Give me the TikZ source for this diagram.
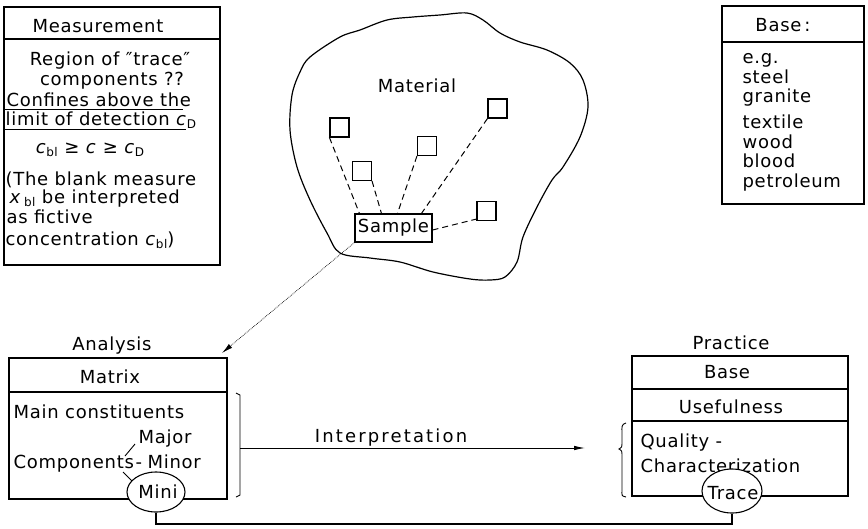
\documentclass[tikz,border=0pt]{standalone}
\usepackage{fontspec}
\setmainfont{DejaVu Sans}[LetterSpace=4]
\usetikzlibrary{arrows.meta,shapes.geometric,calc}
\newcommand{\lowsub}[1]{\raisebox{-3pt}{\fontsize{12}{12}\selectfont #1}}
\begin{document}
\begin{tikzpicture}[x=1pt,y=-1pt, line width=1.2pt,
  every node/.style={font=\fontsize{18}{20}\selectfont, inner sep=0pt},
  frame/.style={draw, rectangle, inner sep=0pt},
  txt/.style={anchor=base},
  txtl/.style={anchor=base west},
  sq/.style={draw, rectangle, minimum width=19pt, minimum height=19pt, line width=1.1pt},
  ell/.style={draw, ellipse, fill=white, inner sep=0pt, line width=1.1pt},
  dashln/.style={dash pattern=on 6pt off 4pt, line width=1pt},
  thinln/.style={line width=0.9pt}
]
\useasboundingbox (0,0) rectangle (868,528);

% ---------------- Measurement box
\node[frame, minimum width=216pt, minimum height=258pt] (meas) at (112,136) {};
\draw (4,39) -- (220,39);
\node[txt]  (mtitle) at (98,32) {Measurement};
\node[txt]  (m1) at (110,65) {Region of ″trace″};
\node[txt]  (m2) at (112,85) {components ??};
\node[txtl] (m3) at (6,106) {Confines above the};
\draw[thinln] (4,109) -- (183,109);
\node[txtl] (m4) at (5,125) {limit of detection \textit{c}\lowsub{D}};
\draw[thinln] (4,129) -- (186,129);
\node[txt]  (m5) at (90,153) {\textit{c}\lowsub{bl} ≥ \textit{c} ≥ \textit{c}\lowsub{D}};
\node[txtl] (m6) at (5,185) {(The blank measure};
\node[txtl] (m7) at (9,203) {\textit{x}\,\lowsub{bl} be interpreted};
\node[txtl] (m8) at (6,223) {as fictive};
\node[txtl] (m9) at (5,245) {concentration \textit{c}\lowsub{bl})};

% ---------------- Base box (top right)
\node[frame, minimum width=142pt, minimum height=198pt] (basebox) at (793,105) {};
\draw (722,42) -- (864,42);
\node[txt]  (btitle) at (783,31) {Base\,:};
\node[txtl] (b1) at (742,63) {e.g.};
\node[txtl] (b2) at (742,83) {steel};
\node[txtl] (b3) at (742,102) {granite};
\node[txtl] (b4) at (742,128) {textile};
\node[txtl] (b5) at (742,148) {wood};
\node[txtl] (b6) at (742,167) {blood};
\node[txtl] (b7) at (742,187) {petroleum};

% ---------------- Material blob
\draw[line width=1.2pt] plot[smooth cycle, tension=0.55] coordinates {
 (310,57) (340,37) (360,30) (387,20) (413,17) (440,15) (467,13) (483,20)
 (500,33) (520,42) (547,50) (570,63) (583,80) (588,107) (580,137) (563,167)
 (552,180) (537,207) (523,237) (517,262) (505,277) (490,280) (470,279)
 (433,272) (400,262) (370,258) (340,253) (327,233) (310,200) (297,167)
 (290,130) (292,95) (300,72)};
\node[txt] (material) at (417,92) {Material};

\node[sq] (s1) at (339.5,127.5) {};
\node[sq] (s2) at (362,171) {};
\node[sq] (s3) at (427,146) {};
\node[sq] (s4) at (497.5,108.5) {};
\node[sq] (s5) at (486.5,211) {};
\node[frame, line width=1.1pt, minimum width=77pt, minimum height=28pt] (sample) at (393.5,228) {Sample};

\draw[dashln] (s1.south west) -- ([xshift=5pt]sample.north west);
\draw[dashln] (s2.south east) -- ([xshift=27pt]sample.north west);
\draw[dashln] (s3.south west) -- ([xshift=43pt]sample.north west);
\draw[dashln] (s4.south west) -- ([xshift=67pt]sample.north west);
\draw[dashln] ([yshift=-2pt]sample.east) -- ([yshift=2pt]s5.south west);

% ---------------- Analysis box
\node[frame, minimum width=218pt, minimum height=141pt] (ana) at (118,428.5) {};
\draw (9,392) -- (227,392);
\node[txt]  (anatitle) at (112,350) {Analysis};
\node[txt]  (matrix) at (110,383) {Matrix};
\node[txtl] (a1) at (13,418) {Main constituents};
\node[txtl] (major) at (138,443) {Major};
\node[txtl] (comp) at (13,468) {Components};
\node[txtl] (dash) at (135,468) {-};
\node[txtl] (minor) at (147,468) {Minor};
\draw[thinln] (125,456) -- (135,444);
\draw[thinln] (123,472) -- (133,482);
\node[ell, minimum width=58pt, minimum height=40pt] (miniE) at (156,492) {};
\node[txt] (mini) at (158,498) {Mini};

\coordinate (anaTip) at (222,353);
\draw[line width=0.7pt, densely dotted, -{Latex[length=11pt,width=5pt]}] (sample.south west) -- (anaTip);

% bracket right of Analysis
\draw[thinln] (236,393) -- (240,395) -- (240,495) -- (236,497);
\coordinate (brA) at (240,448);

% ---------------- Practice box
\node[frame, minimum width=216pt, minimum height=140pt] (prac) at (740,426) {};
\draw (632,389) -- (848,389);
\draw (632,421) -- (848,421);
\node[txt]  (practitle) at (731,349) {Practice};
\node[txt]  (pbase) at (727,378) {Base};
\node[txt]  (useful) at (731,413) {Usefulness};
\node[txtl] (qual) at (640,447) {Quality -};
\node[txtl] (charact) at (640,472) {Characterization};
\node[ell, minimum width=60pt, minimum height=44pt] (traceE) at (732,491) {};
\node[txt] (trace) at (733,499) {Trace};

% brace left of Practice
\draw[thinln] (626,423) .. controls (621,424) and (622,428) .. (622,432) -- (622,444)
  .. controls (622,447) .. (619,449) .. controls (622,451) .. (622,454) -- (622,490)
  .. controls (622,495) and (621,496) .. (626,497);

% Interpretation arrow
\coordinate (arrEnd) at (585,448);
\draw[line width=0.9pt, -{Latex[length=11pt,width=4.5pt]}] (brA) -- (arrEnd);
\node[txt] (interp) at (391,442) {\addfontfeatures{LetterSpace=12}Interpretation};

% bottom connector Mini -> Trace
\coordinate (low) at (0,524);
\draw[line width=1.1pt] (miniE.south) |- (traceE.south |- low) -- (traceE.south);
\end{tikzpicture}
\end{document}
